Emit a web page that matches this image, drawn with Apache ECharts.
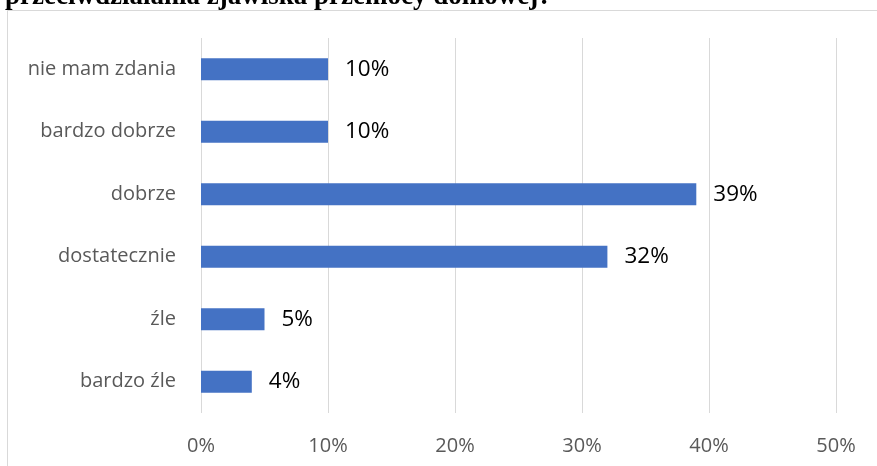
<!DOCTYPE html>
<html><head><meta charset="utf-8">
<script src="https://cdn.jsdelivr.net/npm/echarts@6/dist/echarts.min.js"></script>
<style>html,body{margin:0;padding:0;background:#fff}#c{width:877px;height:466px}</style>
</head><body><div id="c"></div>
<script>
const categories = ['bardzo źle', 'źle', 'dostatecznie', 'dobrze', 'bardzo dobrze', 'nie mam zdania'];
const values = [4, 5, 32, 39, 10, 10];
const tickLabels = ['0%', '10%', '20%', '30%', '40%', '50%'];
const titleText = 'przeciwdziałania zjawiska przemocy domowej?';

const chart = echarts.init(document.getElementById('c'), null, {renderer: 'canvas'});
chart.setOption({
  animation: false,
  graphic: [
    {type: 'rect', shape: {x: 7.5, y: 10.5, width: 900, height: 500}, style: {fill: 'none', stroke: '#d9d9d9', lineWidth: 1}},
    {type: 'text', left: 5, top: -16, style: {text: titleText, font: 'bold 27px "Liberation Serif"', fill: '#000'}}
  ],
  grid: {left: 201, right: 41, top: 38, bottom: 53, containLabel: false},
  xAxis: {
    type: 'value', min: 0, max: 50, interval: 10,
    axisLine: {show: false}, axisTick: {show: false},
    splitLine: {lineStyle: {color: '#d9d9d9', width: 1}},
    axisLabel: {formatter: v => tickLabels[v / 10], color: '#595959', fontSize: 20, fontFamily: 'Open Sans', margin: 23}
  },
  yAxis: {
    type: 'category', data: categories,
    axisLine: {show: false}, axisTick: {show: false},
    axisLabel: {color: '#595959', fontSize: 20, fontFamily: 'Open Sans', margin: 25}
  },
  series: [{
    type: 'bar', data: values, barWidth: '35%',
    itemStyle: {color: '#4472c4'},
    label: {show: true, position: 'right', distance: 17, formatter: p => p.value + '%', color: '#000', fontSize: 22.5, fontFamily: 'Open Sans'}
  }]
});
</script></body></html>
